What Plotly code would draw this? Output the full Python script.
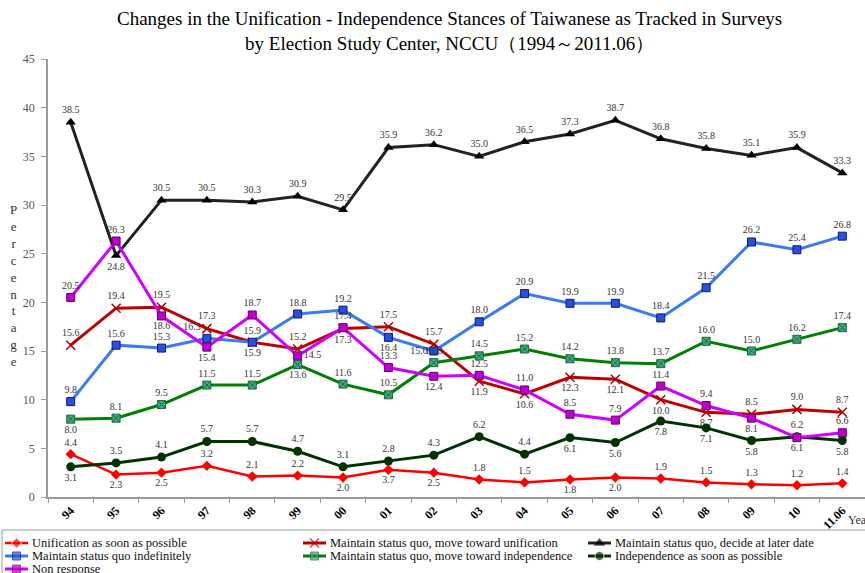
import plotly.graph_objects as go

years = ["94", "95", "96", "97", "98", "99", "00", "01", "02", "03", "04", "05",
         "06", "07", "08", "09", "10", "11.06"]

unif_asap = [4.4, 2.3, 2.5, 3.2, 2.1, 2.2, 2.0, 2.8, 2.5, 1.8, 1.5, 1.8, 2.0, 1.9, 1.5, 1.3, 1.2, 1.4]
toward_unif = [15.6, 19.4, 19.5, 17.3, 15.9, 15.2, 17.3, 17.5, 15.7, 11.9, 10.6, 12.3, 12.1, 10.0, 8.7, 8.5, 9.0, 8.7]
decide_later = [38.5, 24.8, 30.5, 30.5, 30.3, 30.9, 29.5, 35.9, 36.2, 35.0, 36.5, 37.3, 38.7, 36.8, 35.8, 35.1, 35.9, 33.3]
indefinitely = [9.8, 15.6, 15.3, 16.3, 15.9, 18.8, 19.2, 16.4, 15.0, 18.0, 20.9, 19.9, 19.9, 18.4, 21.5, 26.2, 25.4, 26.8]
toward_indep = [8.0, 8.1, 9.5, 11.5, 11.5, 13.6, 11.6, 10.5, 13.8, 14.5, 15.2, 14.2, 13.8, 13.7, 16.0, 15.0, 16.2, 17.4]
indep_asap = [3.1, 3.5, 4.1, 5.7, 5.7, 4.7, 3.1, 3.7, 4.3, 6.2, 4.4, 6.1, 5.6, 7.8, 7.1, 5.8, 6.2, 5.8]
non_response = [20.5, 26.3, 18.6, 15.4, 18.7, 14.5, 17.4, 13.3, 12.4, 12.5, 11.0, 8.5, 7.9, 11.4, 9.4, 8.1, 6.1, 6.6]

names = ["Unification as soon as possible",
         "Maintain status quo, move toward unification",
         "Maintain status quo, decide at later date",
         "Maintain status quo indefinitely",
         "Maintain status quo, move toward independence",
         "Independence as soon as possible",
         "Non response"]

title_text = ("Changes in the Unification - Independence Stances of Taiwanese as Tracked in Surveys"
              "<br>by Election Study Center, NCCU（1994～2011.06）")
y_title = "Percentage"
x_title = "Year"

def labels(vals):
    return [f"{v:.1f}" for v in vals]

unif_lab = labels(unif_asap)
indep_lab = labels(indep_asap)
# the source chart prints the 2001 labels of these two series swapped
unif_lab[7], indep_lab[7] = indep_lab[7], unif_lab[7]

T, B = "top center", "bottom center"
pos_unif = [T, B, B, T, T, T, B, B, B, T, T, B, B, T, T, T, T, T]
pos_tu = [T, T, T, T, B, T, B, T, T, B, B, B, B, B, B, T, T, T]
pos_dl = [T, B] + [T] * 16
pos_ind = [T, T, T, "top left", T, T, T, B, "middle left", T, T, T, T, T, T, T, T, T]
pos_ti = [B, T, T, T, T, B, T, T, T, T, T, T, T, T, T, T, T, T]
pos_ia = [B, T, T, T, T, T, T, T, T, T, T, B, B, B, B, B, T, B]
pos_nr = [T, T, B, B, T, "middle right", T, T, B, T, T, T, T, T, T, B, B, T]

series = [
    (unif_asap, unif_lab, pos_unif, dict(color="#ff0000", width=2.5),
     dict(symbol="diamond", size=8, color="#ff0000")),
    (toward_unif, labels(toward_unif), pos_tu, dict(color="#c00000", width=3),
     dict(symbol="x-thin-open", size=9, color="#b00000", line=dict(color="#b00000", width=1.5))),
    (decide_later, labels(decide_later), pos_dl, dict(color="#222222", width=3),
     dict(symbol="triangle-up", size=9, color="#000000")),
    (indefinitely, labels(indefinitely), pos_ind, dict(color="#3b7af0", width=3),
     dict(symbol="square", size=8, color="#2850e0", line=dict(color="#101870", width=1))),
    (toward_indep, labels(toward_indep), pos_ti, dict(color="#008000", width=3),
     dict(symbol="square-x", size=8, color="#40a888", line=dict(color="#1a6a3a", width=1))),
    (indep_asap, indep_lab, pos_ia, dict(color="#003300", width=3),
     dict(symbol="circle", size=9, color="#003300")),
    (non_response, labels(non_response), pos_nr, dict(color="#d000ff", width=3),
     dict(symbol="square", size=8, color="#c000d0", line=dict(color="#600070", width=1))),
]

W, H = 865, 573
PL, PR, PT, PB = 48, 865, 59, 497          # plot area in pixels
LEG_TOP = 530                               # legend box top in pixels
leg_cols = [5, 303, 588]                    # legend column starts (px)
leg_rows = [543, 556, 569]                  # legend row centres (px)

def fx(x):
    return x / W

def fy(y):
    return 1 - y / H

fig = go.Figure()
for name, (vals, labs, pos, line, marker) in zip(names, series):
    fig.add_trace(go.Scatter(
        x=years, y=vals, name=name, mode="lines+markers+text",
        text=labs, textposition=pos, line=line, marker=marker,
        textfont=dict(family="Liberation Serif", size=10, color="#333333"),
        cliponaxis=False, showlegend=False,
    ))

# hand-built legend (3 columns, tight rows) on a pixel-scaled helper axis
annotations = []
for i, (name, (vals, labs, pos, line, marker)) in enumerate(zip(names, series)):
    x0 = leg_cols[i % 3]
    yc = leg_rows[i // 3]
    m = dict(marker)
    m["size"] = [0, marker["size"], 0]
    fig.add_trace(go.Scatter(
        x=[x0, x0 + 11.5, x0 + 23], y=[yc, yc, yc], mode="lines+markers",
        line=line, marker=m, xaxis="x2", yaxis="y2", showlegend=False,
        hoverinfo="skip", cliponaxis=False,
    ))
    annotations.append(dict(
        text=name, x=x0 + 25, y=yc, xref="x2", yref="y2", xanchor="left", yanchor="middle",
        showarrow=False, font=dict(family="Liberation Serif", size=12.5, color="#111111"),
    ))

annotations += [
    dict(text=title_text, x=fx(449), xref="paper", y=fy(31), yref="paper",
         showarrow=False, xanchor="center", yanchor="middle",
         font=dict(family="Liberation Serif", size=19, color="#000000")),
    dict(text="<br>".join(y_title), x=fx(13), xref="paper", y=fy(285), yref="paper",
         showarrow=False, xanchor="center", yanchor="middle",
         font=dict(family="Liberation Serif", size=13, color="#333333")),
    dict(text=x_title, x=fx(846), xref="paper", y=fy(520), yref="paper", showarrow=False,
         xanchor="left", yanchor="middle",
         font=dict(family="Liberation Serif", size=12, color="#333333")),
]

fig.update_layout(
    width=W, height=H,
    margin=dict(l=0, r=0, t=0, b=0, autoexpand=False),
    paper_bgcolor="white", plot_bgcolor="white",
    font=dict(family="Liberation Serif", color="#222222"),
    showlegend=False,
    xaxis=dict(
        domain=[fx(PL), fx(PR)], anchor="y",
        type="category", tickson="boundaries", ticks="outside", ticklen=4,
        tickcolor="#999999", showline=True, linecolor="#999999", linewidth=1.5,
        showgrid=False, tickangle=-45,
        tickfont=dict(family="Liberation Serif", size=12, color="#000000", weight="bold"),
        range=[-0.5, 17.5],
    ),
    yaxis=dict(
        domain=[fy(PB), fy(PT)], anchor="x",
        range=[0, 45], dtick=5, ticks="outside", ticklen=5, tickcolor="#999999",
        showline=True, linecolor="#999999", linewidth=1.5, showgrid=False,
        zeroline=False, ticklabelstandoff=4,
        tickfont=dict(family="Liberation Serif", size=12, color="#555555"),
    ),
    xaxis2=dict(domain=[0, 1], anchor="y2", range=[0, W], visible=False, fixedrange=True),
    yaxis2=dict(domain=[0, fy(LEG_TOP)], anchor="x2", range=[H, LEG_TOP], visible=False,
                fixedrange=True),
    shapes=[dict(type="rect", xref="paper", yref="paper", x0=fx(2), x1=fx(866),
                 y0=fy(H + 5), y1=fy(LEG_TOP), line=dict(color="#999999", width=1),
                 fillcolor="rgba(0,0,0,0)", layer="below")],
    annotations=annotations,
)

fig.write_html("out.html")
